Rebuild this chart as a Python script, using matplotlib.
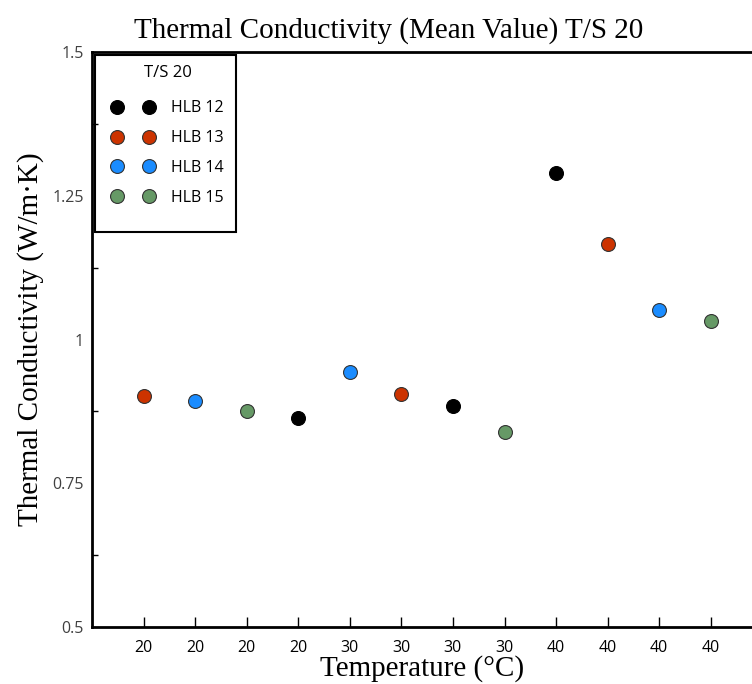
import numpy as np
import matplotlib
matplotlib.use("Agg")
import matplotlib.pyplot as plt
from matplotlib.ticker import MultipleLocator
from matplotlib.patches import Rectangle

# Datos: posiciones categóricas en el eje x
temps = ["20", "20", "20", "20", "30", "30", "30", "30", "40", "40", "40", "40"]

series = ["HLB 12", "HLB 13", "HLB 14", "HLB 15"]
colors = ["#000000", "#cc3300", "#1a8cff", "#669966"]

# posición (1..12) y valor medio de cada serie
pos = {
    "HLB 12": [4, 7, 9],
    "HLB 13": [1, 6, 10],
    "HLB 14": [2, 5, 11],
    "HLB 15": [3, 8, 12],
}
vals = {
    "HLB 12": [0.863, 0.884, 1.290],
    "HLB 13": [0.902, 0.905, 1.166],
    "HLB 14": [0.893, 0.943, 1.051],
    "HLB 15": [0.876, 0.839, 1.032],
}

serif = ["Liberation Serif", "DejaVu Serif"]
sans = ["Open Sans", "DejaVu Sans"]

fig = plt.figure(figsize=(7.52, 6.84), dpi=100)
ax = fig.add_axes([92/752, 1 - 627/684, 1 - 92/752, (627 - 52)/684])

for s, c in zip(series, colors):
    ax.plot(pos[s], vals[s], "o", ls="none", ms=10, mfc=c,
            mec="#000000" if s == "HLB 12" else "#333333", mew=0.8, label=s)

ax.set_xlim(0, 12.8)
ax.set_ylim(0.5, 1.5)

ax.set_xticks(range(1, 13))
ax.set_xticklabels(temps, fontfamily=sans, fontsize=11.5)
ax.set_yticks([0.5, 0.75, 1, 1.25, 1.5])
ax.set_yticklabels(["0.5", "0.75", "1", "1.25", "1.5"], fontfamily=sans,
                   fontsize=11.5, color="#404040")
ax.yaxis.set_minor_locator(MultipleLocator(0.125))

ax.tick_params(axis="x", direction="in", length=7, width=1, pad=9)
ax.tick_params(axis="y", which="major", length=0, pad=6)
ax.tick_params(axis="y", which="minor", direction="in", length=4, width=1)

ax.spines["right"].set_visible(False)
for sp in ["left", "bottom", "top"]:
    ax.spines[sp].set_linewidth(2)

ax.set_title("Thermal Conductivity (Mean Value) T/S 20", fontfamily=serif,
             fontsize=21, pad=10, x=0.45)
ax.set_xlabel("Temperature (°C)", fontfamily=serif, fontsize=21, labelpad=0)
ax.set_ylabel("Thermal Conductivity (W/m·K)", fontfamily=serif, fontsize=21,
              labelpad=6)

leg = ax.legend(loc="upper left", bbox_to_anchor=(7/660, 1), numpoints=2,
                title="T/S 20", frameon=False,
                borderaxespad=0.2, prop={"family": sans, "size": 11.5},
                borderpad=0.6, labelspacing=0.87, handlelength=2.6,
                handletextpad=1.1)
leg.get_title().set_fontfamily(sans)
leg.get_title().set_fontsize(12)
leg._legend_box.sep = 14

# recuadro de la leyenda (más alto que su contenido, como en el original)
ax.add_patch(Rectangle((3/660, (627 - 232)/575), 141/660, 177/575,
                       transform=ax.transAxes, fill=False, ec="black",
                       lw=1.5, zorder=5, clip_on=False))

fig.savefig("out.png", dpi=100)
